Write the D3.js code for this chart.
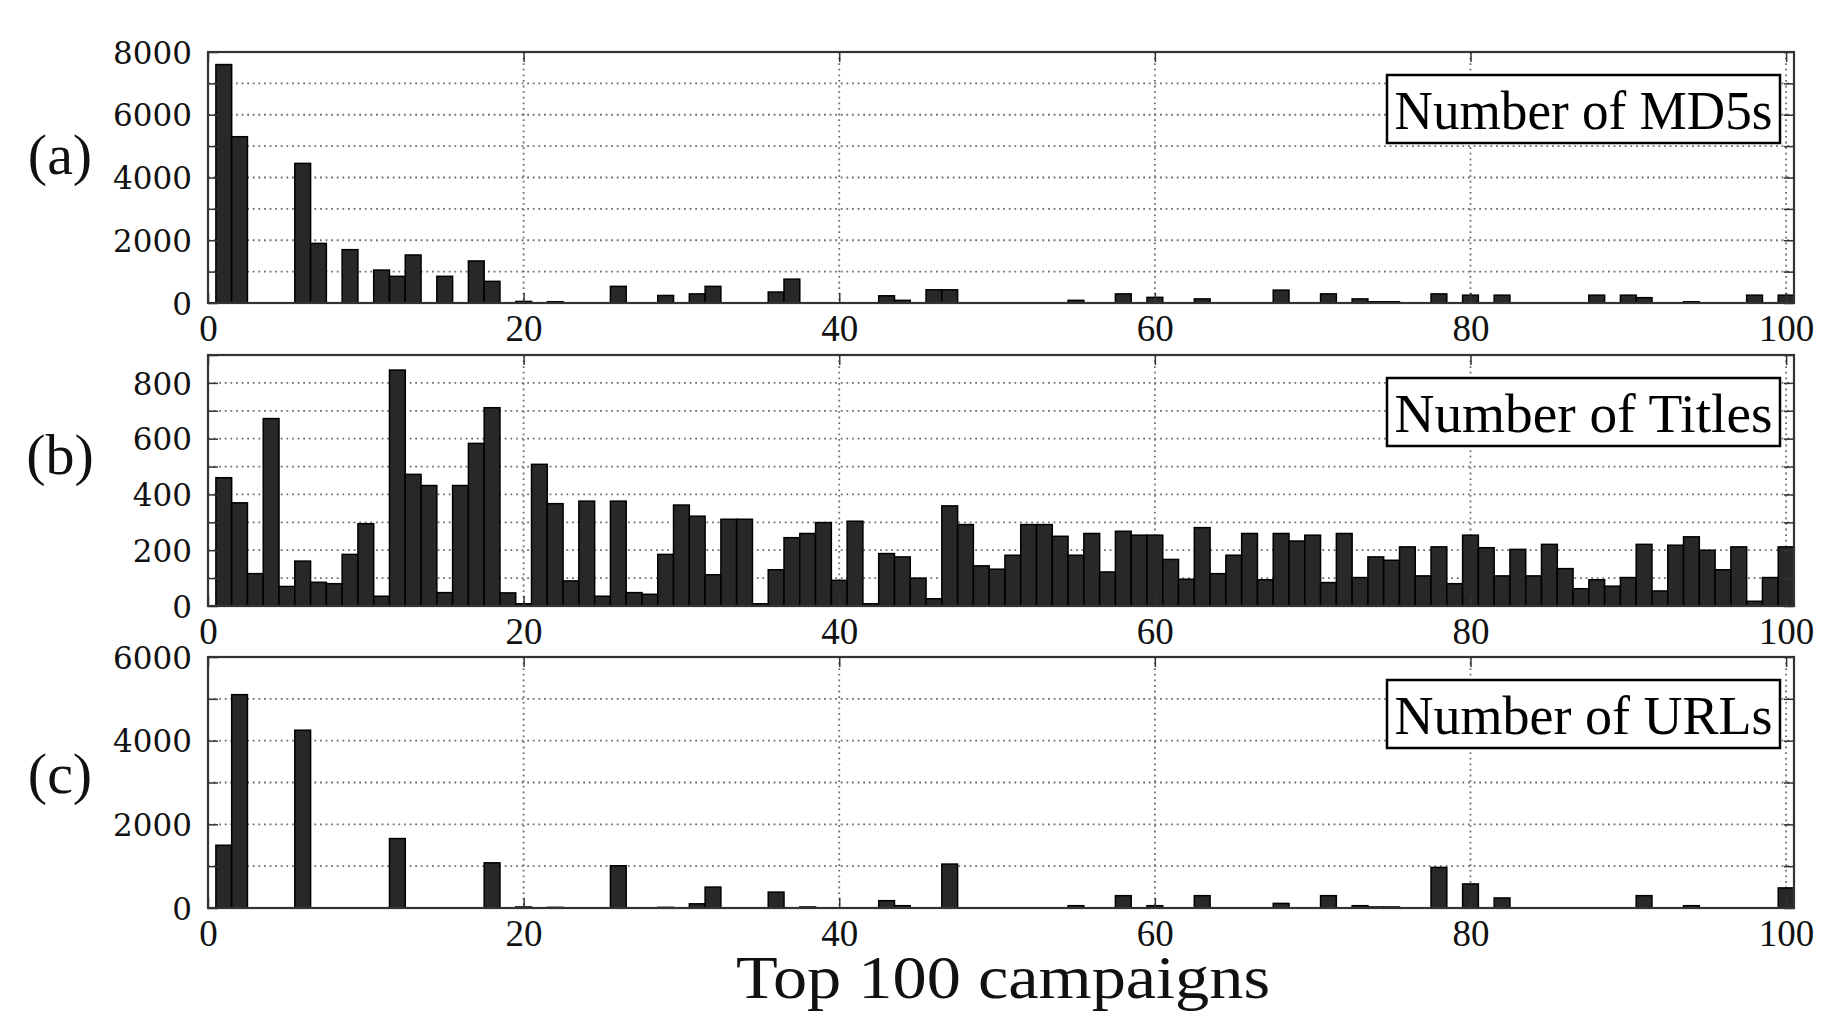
<!DOCTYPE html>
<html>
<head>
<meta charset="utf-8">
<script src="https://cdnjs.cloudflare.com/ajax/libs/d3/7.8.5/d3.min.js"></script>
<style>
  body { margin: 0; background: #fff; }
  svg { display: block; }
</style>
</head>
<body>
<div id="chart"></div>
<script>

// Data: campaigns ranked 1..100
var campaigns = d3.range(1, 101);

var md5s = [
  7600, 5300, 0, 0, 0, 4450, 1900, 0, 1700, 0,
  1050, 850, 1530, 0, 850, 0, 1340, 690, 0, 50,
  0, 40, 0, 0, 0, 530, 0, 0, 240, 0,
  290, 530, 0, 0, 0, 350, 760, 0, 0, 0,
  0, 0, 230, 85, 0, 420, 420, 0, 0, 0,
  0, 0, 0, 0, 85, 0, 0, 290, 0, 180,
  0, 0, 130, 0, 0, 0, 0, 410, 0, 0,
  290, 0, 130, 40, 40, 0, 0, 290, 0, 250,
  0, 250, 0, 0, 0, 0, 0, 250, 0, 250,
  170, 0, 0, 40, 0, 0, 0, 250, 0, 250
];

var titles = [
  460, 370, 116, 672, 70, 161, 85, 80, 185, 295,
  35, 846, 472, 432, 48, 432, 583, 711, 47, 8,
  508, 367, 90, 376, 35, 376, 48, 42, 185, 362,
  322, 112, 311, 311, 8, 130, 245, 260, 299, 92,
  304, 8, 188, 176, 100, 26, 359, 292, 144, 132,
  182, 292, 292, 250, 182, 260, 122, 268, 254, 254,
  167, 96, 281, 116, 182, 260, 94, 260, 233, 254,
  84, 260, 102, 176, 164, 212, 108, 212, 80, 254,
  209, 108, 203, 108, 221, 134, 62, 94, 71, 102,
  221, 54, 218, 248, 200, 130, 212, 17, 102, 212
];

var urls = [
  1500, 5100, 0, 0, 0, 4250, 0, 0, 0, 0,
  0, 1660, 0, 0, 0, 0, 0, 1080, 0, 25,
  0, 15, 0, 0, 0, 1010, 0, 0, 15, 0,
  100, 500, 0, 0, 0, 380, 0, 25, 0, 0,
  0, 0, 175, 55, 0, 0, 1050, 0, 0, 0,
  0, 0, 0, 0, 55, 0, 0, 295, 0, 55,
  0, 0, 295, 0, 0, 0, 0, 110, 0, 0,
  295, 0, 55, 25, 25, 0, 0, 970, 0, 575,
  0, 240, 0, 0, 0, 0, 0, 0, 0, 0,
  295, 0, 0, 55, 0, 0, 0, 0, 0, 480
];

// Tick labels and grid levels
var xTicks = [0, 20, 40, 60, 80, 100];
var md5Ticks = [0, 2000, 4000, 6000, 8000];
var md5Grid = [0, 1000, 2000, 3000, 4000, 5000, 6000, 7000, 8000];
var titleTicks = [0, 200, 400, 600, 800];
var titleGrid = [0, 100, 200, 300, 400, 500, 600, 700, 800, 900];
var urlTicks = [0, 2000, 4000, 6000];
var urlGrid = [0, 1000, 2000, 3000, 4000, 5000, 6000];

var panelLabels = ['(a)', '(b)', '(c)'];
var legendNames = ['Number of MD5s', 'Number of Titles', 'Number of URLs'];
var xTitle = 'Top 100 campaigns';


var width = 1847,
    height = 1012,
    left = 208,
    right = 1794;

var svg = d3.select('#chart').append('svg')
    .attr('width', width)
    .attr('height', height);

svg.append('rect')
    .attr('width', width)
    .attr('height', height)
    .attr('fill', '#fff');

var x = d3.scaleLinear().domain([0, 100.5]).range([left, right]);

var panels = [
  { top: 52,  bottom: 303, yMax: 8000, values: md5s,   ticks: md5Ticks,   grid: md5Grid,   labelY: 174 },
  { top: 355, bottom: 606, yMax: 900,  values: titles, ticks: titleTicks, grid: titleGrid, labelY: 474 },
  { top: 657, bottom: 908, yMax: 6000, values: urls,   ticks: urlTicks,   grid: urlGrid,   labelY: 793 }
];

var gridStyle = function(sel) {
  sel.attr('stroke', '#6e6e6e')
     .attr('stroke-width', 1.8)
     .attr('stroke-dasharray', '1.8,3.8')
     .attr('fill', 'none');
};

panels.forEach(function(p, pi) {

  var y = d3.scaleLinear().domain([0, p.yMax]).range([p.bottom, p.top]);
  var g = svg.append('g');

  // Grid
  g.selectAll('.hgrid')
      .data(p.grid.filter(function(d) { return d > 0 && d < p.yMax; }))
    .enter().append('line')
      .attr('class', 'hgrid')
      .attr('x1', left).attr('x2', right)
      .attr('y1', function(d) { return y(d); })
      .attr('y2', function(d) { return y(d); })
      .call(gridStyle);

  g.selectAll('.vgrid')
      .data(xTicks.filter(function(d) { return d > 0; }))
    .enter().append('line')
      .attr('class', 'vgrid')
      .attr('x1', function(d) { return x(d); })
      .attr('x2', function(d) { return x(d); })
      .attr('y1', p.top).attr('y2', p.bottom)
      .call(gridStyle);

  // Bars
  g.selectAll('.bar')
      .data(campaigns)
    .enter().append('rect')
      .attr('class', 'bar')
      .attr('x', function(d) { return x(d - 0.5); })
      .attr('width', x(1) - x(0))
      .attr('y', function(d, i) { return y(p.values[i]); })
      .attr('height', function(d, i) { return y(0) - y(p.values[i]); })
      .attr('fill', '#282828')
      .attr('stroke', '#000')
      .attr('stroke-width', 1.5);

  // Axes (inward ticks on all four sides)
  var yLeft = g.append('g')
      .attr('transform', 'translate(' + left + ',0)')
      .call(d3.axisLeft(y)
        .tickValues(p.grid)
        .tickSize(-10)
        .tickPadding(16)
        .tickFormat(function(d) { return p.ticks.indexOf(d) >= 0 ? d : ''; }));

  yLeft.attr('font-family', '"DejaVu Serif", serif')
      .attr('font-size', 31);
  yLeft.selectAll('text').attr('fill', '#111').attr('dy', '0.36em');

  g.append('g')
      .attr('transform', 'translate(' + right + ',0)')
      .call(d3.axisRight(y).tickValues(p.grid).tickSize(-10).tickFormat(''));

  var xBottom = g.append('g')
      .attr('transform', 'translate(0,' + p.bottom + ')')
      .call(d3.axisBottom(x).tickValues(xTicks).tickSize(-10));

  xBottom.attr('font-family', '"Liberation Serif", serif')
      .attr('font-size', 37);
  xBottom.selectAll('text').attr('fill', '#111').attr('y', 38).attr('dy', 0);

  g.append('g')
      .attr('transform', 'translate(0,' + p.top + ')')
      .call(d3.axisTop(x).tickValues(xTicks).tickSize(-10).tickFormat(''));

  g.selectAll('.domain').remove();
  g.selectAll('.tick line').attr('stroke', '#333').attr('stroke-width', 1.5);

  // Frame
  g.append('rect')
      .attr('x', left).attr('y', p.top)
      .attr('width', right - left).attr('height', p.bottom - p.top)
      .attr('fill', 'none')
      .attr('stroke', '#333')
      .attr('stroke-width', 2.2);

  // Legend box
  var lg = g.append('g').attr('transform', 'translate(1387,' + (p.top + 23) + ')');
  lg.append('rect')
      .attr('width', 393).attr('height', 68)
      .attr('fill', '#fff')
      .attr('stroke', '#000')
      .attr('stroke-width', 2.5);
  lg.append('text')
      .attr('x', 196.5).attr('y', 54)
      .attr('text-anchor', 'middle')
      .attr('font-family', '"Liberation Serif", serif')
      .attr('font-size', 54)
      .attr('textLength', 378)
      .attr('lengthAdjust', 'spacingAndGlyphs')
      .attr('fill', '#000')
      .text(legendNames[pi]);

  // Panel label
  svg.append('text')
      .attr('x', 60).attr('y', p.labelY)
      .attr('text-anchor', 'middle')
      .attr('font-family', '"Liberation Serif", serif')
      .attr('font-size', 58)
      .attr('fill', '#111')
      .text(panelLabels[pi]);

});

// Shared x title
svg.append('text')
    .attr('x', 1003).attr('y', 998)
    .attr('text-anchor', 'middle')
    .attr('font-family', '"Liberation Serif", serif')
    .attr('font-size', 61)
    .attr('textLength', 534)
    .attr('lengthAdjust', 'spacingAndGlyphs')
    .attr('fill', '#111')
    .text(xTitle);

</script>
</body>
</html>
